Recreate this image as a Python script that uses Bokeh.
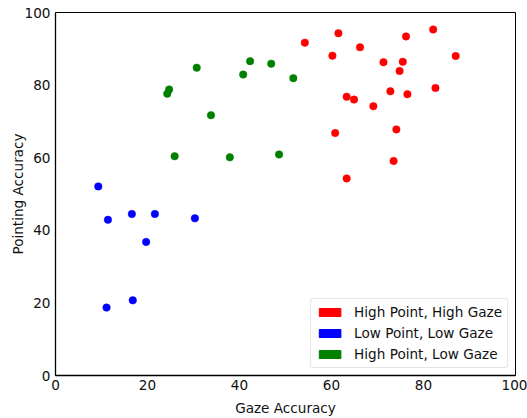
from bokeh.plotting import figure
from bokeh.models import ColumnDataSource, Legend, LegendItem, Range1d, FixedTicker
from bokeh.embed import file_html
from bokeh.resources import INLINE

# High Point, High Gaze
hh_gaze = [61.5, 54.2, 76.2, 82.1, 66.2, 60.2, 87.0, 71.3, 75.5, 74.8,
           72.8, 76.5, 82.6, 63.3, 64.9, 69.1, 60.8, 74.1, 73.5, 63.3]
hh_point = [94.3, 91.7, 93.4, 95.3, 90.4, 88.1, 88.0, 86.3, 86.4, 83.9,
            78.3, 77.5, 79.2, 76.8, 76.0, 74.2, 66.8, 67.8, 59.1, 54.3]

# Low Point, Low Gaze
ll_gaze = [9.3, 11.4, 16.6, 21.6, 30.3, 19.7, 11.1, 16.8]
ll_point = [52.1, 42.9, 44.5, 44.5, 43.3, 36.8, 18.7, 20.7]

# High Point, Low Gaze
hl_gaze = [24.3, 24.7, 30.7, 33.8, 25.9, 37.9, 40.8, 42.3, 46.9, 51.7, 48.6]
hl_point = [77.6, 78.8, 84.8, 71.7, 60.4, 60.1, 82.9, 86.6, 85.9, 81.9, 60.9]

labels = ["High Point, High Gaze", "Low Point, Low Gaze", "High Point, Low Gaze"]
colors = ["#ff0000", "#0000ff", "#008000"]
ticks = [0, 20, 40, 60, 80, 100]

FS = "13.6px"

p = figure(frame_width=460, frame_height=363, output_backend="svg", toolbar_location=None,
           x_range=Range1d(0, 100), y_range=Range1d(0, 100),
           min_border_left=55, min_border_right=12, min_border_top=12, min_border_bottom=40)

p.xgrid.visible = False
p.ygrid.visible = False
p.outline_line_color = "black"
p.outline_line_width = 1

for ax in (p.xaxis[0], p.yaxis[0]):
    ax.ticker = FixedTicker(ticks=ticks)
    ax.major_tick_out = 0
    ax.major_tick_in = 0
    ax.minor_tick_out = 0
    ax.minor_tick_in = 0
    ax.axis_line_color = "black"
    ax.axis_line_width = 1.3
    ax.major_label_text_font = "DejaVu Sans"
    ax.major_label_text_font_size = FS
    ax.major_label_text_color = "#111111"
    ax.axis_label_text_font = "DejaVu Sans"
    ax.axis_label_text_font_size = FS
    ax.axis_label_text_font_style = "normal"
    ax.axis_label_text_color = "#111111"

p.xaxis.axis_label = "Gaze Accuracy"
p.yaxis.axis_label = "Pointing Accuracy"
p.xaxis.major_label_standoff = 4
p.xaxis.axis_label_standoff = 7
p.yaxis.major_label_standoff = 5
p.yaxis.axis_label_standoff = -4

series = [(hh_gaze, hh_point), (ll_gaze, ll_point), (hl_gaze, hl_point)]
items = []
for (gx, py), lab, col in zip(series, labels, colors):
    src = ColumnDataSource(dict(x=gx, y=py))
    p.scatter("x", "y", source=src, size=7.5, fill_color=col, line_color=col, line_width=0.5)
    nan = float("nan")
    proxy = p.quad(left=[nan], right=[nan], top=[nan], bottom=[nan],
                   fill_color=col, line_color=col)
    items.append(LegendItem(label=lab, renderers=[proxy]))

legend = Legend(items=items, location="bottom_right")
legend.margin = 7
legend.padding = 5
legend.spacing = 5
legend.glyph_width = 27
legend.glyph_height = 10
legend.label_height = 14
legend.label_standoff = 11
legend.label_text_font = "DejaVu Sans"
legend.label_text_font_size = FS
legend.label_text_color = "#111111"
legend.border_line_color = "#cccccc"
legend.border_line_width = 1
legend.border_radius = 3
legend.background_fill_alpha = 0.9
p.add_layout(legend)

open("out.html", "w").write(file_html(p, INLINE))
